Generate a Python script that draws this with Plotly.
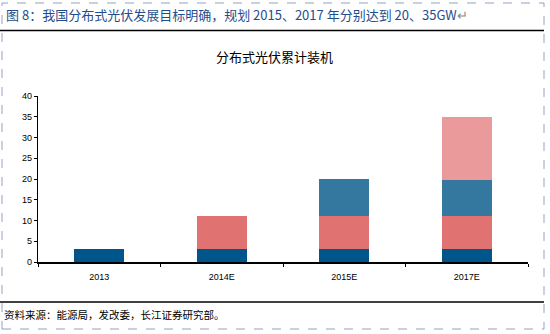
import plotly.graph_objects as go

categories = ["2013", "2014E", "2015E", "2017E"]
s1 = [3.1, 3.1, 3.1, 3.1]
s2 = [0, 8.0, 7.9, 7.9]
s3 = [0, 0, 8.9, 8.7]
s4 = [0, 0, 0, 15.3]
colors = ["#00558A", "#E07371", "#3478A0", "#EA9A9B"]

W, H = 550, 334
def px(x):
    return x / W
def py(y):
    return 1 - y / H

fig = go.Figure()
for vals, c in zip([s1, s2, s3, s4], colors):
    fig.add_trace(go.Bar(x=categories, y=vals, marker=dict(color=c, line=dict(width=0)),
                         showlegend=False))

fig.update_layout(
    width=W, height=H, barmode="stack", bargap=0.59,
    margin=dict(l=0, r=0, t=0, b=0),
    paper_bgcolor="white", plot_bgcolor="white",
    font=dict(family="Liberation Sans, Arial", color="black"),
    xaxis=dict(domain=[px(38), px(528)], showline=True, linecolor="black", linewidth=1.5,
               ticks="outside", tickson="boundaries", ticklen=3, tickcolor="black",
               ticklabelstandoff=5,
               tickfont=dict(size=9, family="Liberation Sans, Arial"), showgrid=False,
               automargin=False),
    yaxis=dict(domain=[py(262), py(96)], range=[0, 40], dtick=5, showline=True,
               linecolor="black", linewidth=1.2, ticks="outside", ticklen=3, tickcolor="black",
               tickfont=dict(size=9, family="Liberation Sans, Arial"), showgrid=False,
               zeroline=False, automargin=False),
)

shapes = []
# dashed frame
shapes.append(dict(type="rect", xref="paper", yref="paper", x0=px(2), x1=px(544), y0=py(329), y1=py(3),
                   line=dict(color="#8FA3BF", width=1, dash="dash")))
# solid lines
shapes.append(dict(type="line", xref="paper", yref="paper", x0=0, x1=px(544), y0=py(30.5), y1=py(30.5),
                   line=dict(color="black", width=1.5)))
shapes.append(dict(type="line", xref="paper", yref="paper", x0=0, x1=px(544), y0=py(302), y1=py(302),
                   line=dict(color="black", width=1.5)))
fig.update_layout(shapes=shapes)

cjk = "Noto Sans CJK SC"
fig.add_annotation(text="图 8：我国分布式光伏发展目标明确，规划 2015、2017 年分别达到 20、35GW<span style='color:#888'>↵</span>",
                   xref="paper", yref="paper", x=px(4), y=py(15), xanchor="left", yanchor="middle",
                   showarrow=False, font=dict(family=cjk, size=13, color="#1F4E8C"))
fig.add_annotation(text="分布式光伏累计装机", xref="paper", yref="paper", x=px(274), y=py(57),
                   xanchor="center", yanchor="middle", showarrow=False,
                   font=dict(family=cjk, size=13, color="black"))
fig.add_annotation(text="资料来源：能源局，发改委，长江证券研究部。", xref="paper", yref="paper",
                   x=px(2), y=py(314), xanchor="left", yanchor="middle", showarrow=False,
                   font=dict(family=cjk, size=10.5, color="black"))

fig.write_html("out.html")
